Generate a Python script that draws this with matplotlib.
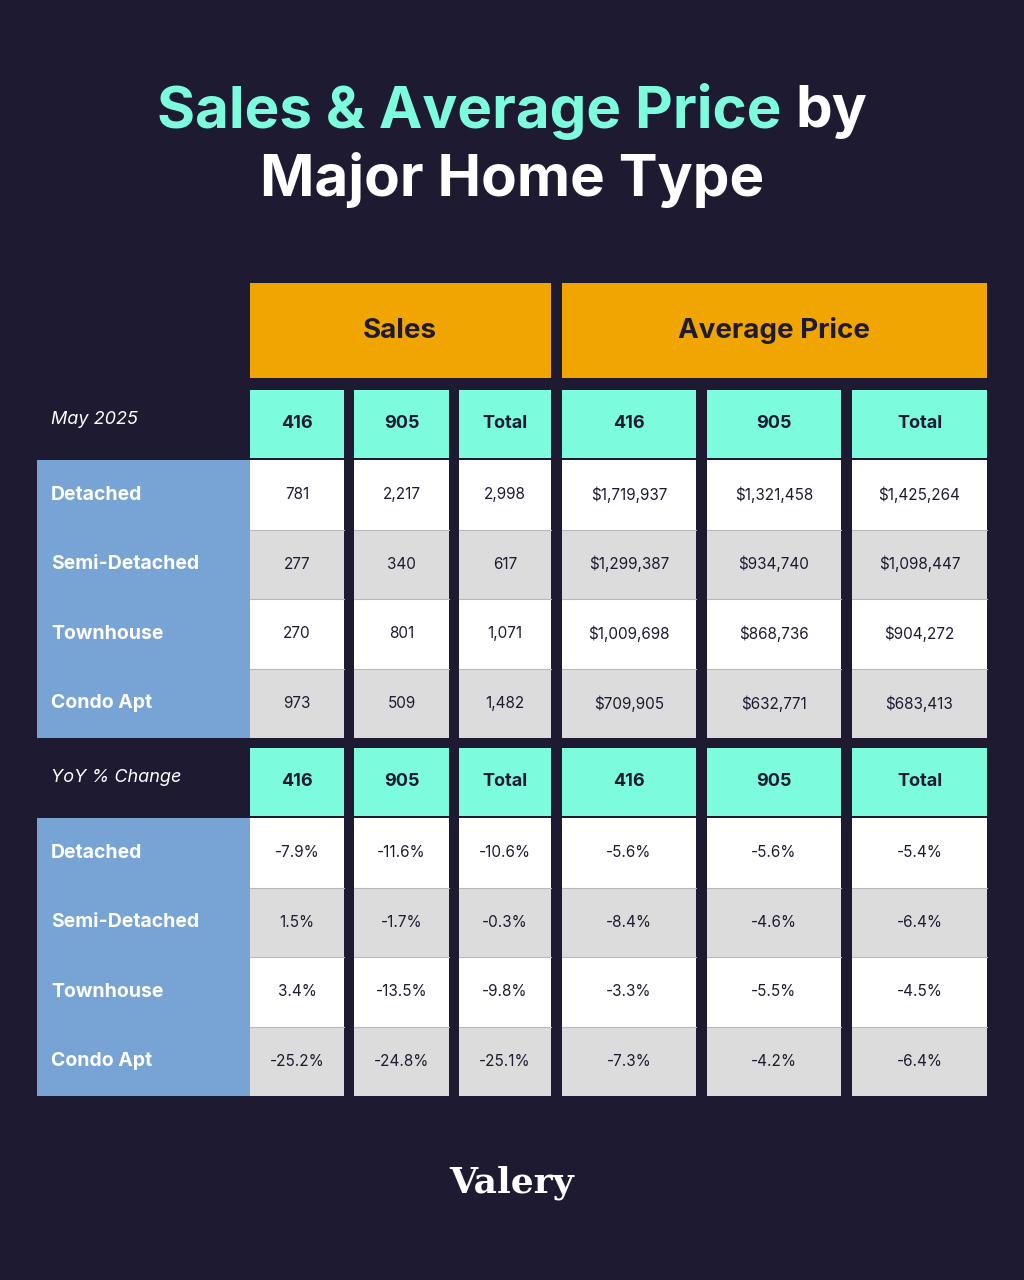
import matplotlib
matplotlib.use("Agg")
import matplotlib.pyplot as plt
from matplotlib.patches import Rectangle

groups = ["Sales", "Average Price"]
cols = ["416", "905", "Total", "416", "905", "Total"]
rows = ["Detached", "Semi-Detached", "Townhouse", "Condo Apt"]
block_titles = ["May 2025", "YoY % Change"]
sales_416 = ["781", "277", "270", "973"]
sales_905 = ["2,217", "340", "801", "509"]
sales_tot = ["2,998", "617", "1,071", "1,482"]
price_416 = ["$1,719,937", "$1,299,387", "$1,009,698", "$709,905"]
price_905 = ["$1,321,458", "$934,740", "$868,736", "$632,771"]
price_tot = ["$1,425,264", "$1,098,447", "$904,272", "$683,413"]
yoy_s416 = ["-7.9%", "1.5%", "3.4%", "-25.2%"]
yoy_s905 = ["-11.6%", "-1.7%", "-13.5%", "-24.8%"]
yoy_stot = ["-10.6%", "-0.3%", "-9.8%", "-25.1%"]
yoy_p416 = ["-5.6%", "-8.4%", "-3.3%", "-7.3%"]
yoy_p905 = ["-5.6%", "-4.6%", "-5.5%", "-4.2%"]
yoy_ptot = ["-5.4%", "-6.4%", "-4.5%", "-6.4%"]
blocks = [[sales_416, sales_905, sales_tot, price_416, price_905, price_tot],
          [yoy_s416, yoy_s905, yoy_stot, yoy_p416, yoy_p905, yoy_ptot]]

BG = "#1e1a32"; MINT = "#7cfcdc"; ORANGE = "#f0a500"; BLUE = "#77a3d5"; GRAY = "#dcdcdc"; DARK = "#1e1a32"
FONT = "Inter"

fig = plt.figure(figsize=(10.24, 12.8), dpi=100, facecolor=BG)
ax = fig.add_axes([0, 0, 1, 1])
ax.set_xlim(0, 1024); ax.set_ylim(1280, 0); ax.axis("off")

def rect(x0, y0, x1, y1, c):
    ax.add_patch(Rectangle((x0, y0), x1 - x0, y1 - y0, facecolor=c, edgecolor="none"))

# title
fig.canvas.draw()
r = fig.canvas.get_renderer()
t1 = ax.text(0, 112, "Sales & Average Price ", fontsize=42, fontweight="bold", family=FONT, color=MINT, va="center")
t2 = ax.text(0, 112, "by", fontsize=42, fontweight="bold", family=FONT, color="white", va="center")
w1 = t1.get_window_extent(r).width; w2 = t2.get_window_extent(r).width
start = 512 - (w1 + w2) / 2
t1.set_x(start); t2.set_x(start + w1)
ax.text(512, 180, "Major Home Type", fontsize=42, fontweight="bold", family=FONT, color="white", ha="center", va="center")

colx = [(250, 344), (354, 449), (459, 551), (562, 696), (707, 841), (852, 987)]
rect(250, 283, 551, 378, ORANGE); rect(562, 283, 987, 378, ORANGE)
ax.text(400, 331, groups[0], fontsize=20, fontweight="bold", family=FONT, color=DARK, ha="center", va="center")
ax.text(774, 331, groups[1], fontsize=20, fontweight="bold", family=FONT, color=DARK, ha="center", va="center")

block_tops = [390, 748]
for b, top in enumerate(block_tops):
    hy1 = top + 68
    ax.text(51, top + 29, block_titles[b], fontsize=13, style="italic", family=FONT, color="white", va="center")
    for (x0, x1), c in zip(colx, cols):
        rect(x0, top, x1, hy1, MINT)
        ax.text((x0 + x1) / 2, top + 34, c, fontsize=13, fontweight="bold", family=FONT, color=DARK, ha="center", va="center")
    ry0 = hy1 + 2
    rh = 69.5
    rect(37, ry0, 250, ry0 + 4 * rh, BLUE)
    for i, name in enumerate(rows):
        y0 = ry0 + i * rh
        ax.text(51, y0 + rh / 2, name, fontsize=14, fontweight="bold", family=FONT, color="white", va="center")
        for j, (x0, x1) in enumerate(colx):
            rect(x0, y0, x1, y0 + rh, "white" if i % 2 == 0 else GRAY)
            ax.text((x0 + x1) / 2, y0 + rh / 2, blocks[b][j][i], fontsize=11, family=FONT, color=DARK, ha="center", va="center")
        if i > 0:
            for x0, x1 in colx:
                ax.plot([x0, x1], [y0, y0], color="#b8b8b8", lw=0.8)

ax.text(512, 1183, "Valery", fontsize=26, fontweight="bold", family="DejaVu Serif", color="white", ha="center", va="center")
fig.savefig("out.png", dpi=100, facecolor=BG)
